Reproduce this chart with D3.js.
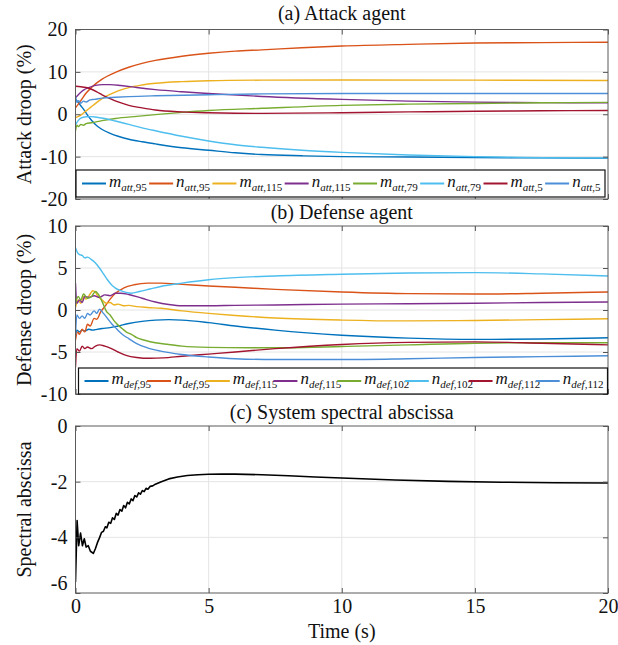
<!DOCTYPE html>
<html>
<head>
<meta charset="utf-8">
<script src="https://cdn.jsdelivr.net/npm/d3@7"></script>
<style>
  html, body { margin: 0; padding: 0; background: #fff; }
  svg { display: block; font-family: "Liberation Serif", "Times New Roman", serif; }
</style>
</head>
<body>
<svg id="chart" width="618" height="645"></svg>
<script>
// ---------- data: [time (s), value] ----------
// (a) attack agent droop (%)
const mAtt95 = [[0,3.6],[0.1,2.8],[0.2,2.0],[0.3,1.2],[0.45,-0.2],[0.6,-1.4],[0.8,-2.7],[1.0,-3.6],[1.3,-4.5],[1.6,-5.2],[2.0,-5.9],[2.5,-6.5],[3.0,-7.0],[4.0,-7.9],[5.0,-8.5],[6.0,-9.1],[7.0,-9.5],[8.5,-9.8],[10,-10.0],[12.5,-10.1],[15,-10.2],[17.5,-10.3],[20,-10.4]];
const nAtt95 = [[0,1.5],[0.2,3.2],[0.4,5.0],[0.6,6.3],[0.8,7.4],[1.0,8.3],[1.5,9.9],[2.0,11.1],[2.5,12.0],[3.0,12.7],[4.0,13.7],[5.0,14.4],[6.0,14.9],[7.0,15.2],[8.5,15.7],[10,16.1],[12.5,16.5],[15,16.8],[17.5,16.9],[20,17.0]];
const mAtt115 = [[0,-0.8],[0.2,-0.2],[0.4,0.8],[0.6,1.8],[0.8,2.8],[1.0,3.7],[1.3,4.7],[1.6,5.5],[2.0,6.3],[2.5,6.9],[3.0,7.3],[4.0,7.7],[5.0,7.9],[7.0,8.05],[10,8.1],[15,8.05],[20,7.95]];
const nAtt115 = [[0,3.9],[0.15,4.9],[0.3,5.7],[0.5,6.3],[0.75,6.8],[1.0,7.0],[1.3,7.0],[1.7,6.8],[2.3,6.3],[3.0,5.8],[4.0,5.3],[5.0,4.9],[7.0,4.2],[10,3.5],[12.5,3.1],[15,2.85],[17.5,2.75],[20,2.7]];
const mAtt79 = [[0,-3.9],[0.05,-2.6],[0.12,-2.9],[0.2,-2.4],[0.3,-2.6],[0.4,-2.2],[0.6,-2.0],[1.0,-1.5],[1.5,-1.0],[2.3,-0.5],[3.0,-0.1],[4.0,0.45],[5.0,0.9],[7.0,1.4],[10,2.1],[12.5,2.4],[15,2.55],[17.5,2.7],[20,2.8]];
const nAtt79 = [[0,-2.5],[0.1,-1.5],[0.2,-0.9],[0.4,-0.6],[0.6,-0.55],[0.8,-0.7],[1.1,-1.0],[1.5,-1.6],[2.0,-2.4],[2.5,-3.2],[3.0,-3.9],[4.0,-5.2],[5.0,-6.3],[6.0,-7.2],[7.0,-7.8],[8.5,-8.5],[10,-9.0],[12.5,-9.6],[15,-10.0],[17.5,-10.25],[20,-10.35]];
const mAtt5 = [[0,6.6],[0.2,6.5],[0.4,6.3],[0.6,5.9],[0.8,5.3],[1.0,4.6],[1.3,3.7],[1.6,2.9],[2.0,2.1],[2.5,1.5],[3.0,1.0],[4.0,0.55],[5.0,0.35],[6.0,0.25],[7.0,0.2],[10,0.35],[12.5,0.55],[15,0.7],[17.5,0.82],[20,0.9]];
const nAtt5 = [[0,4.3],[0.05,2.8],[0.12,3.2],[0.2,2.6],[0.3,3.1],[0.4,2.9],[0.55,3.4],[0.7,3.5],[1.0,3.8],[1.5,4.0],[2.0,4.15],[3.0,4.35],[5.0,4.6],[7.0,4.8],[10,4.9],[15,4.9],[20,4.9]];

// (b) defense agent droop (%)
const mDef95 = [[0,-3.0],[0.05,-2.4],[0.15,-2.6],[0.25,-2.4],[0.35,-2.5],[0.5,-2.3],[0.65,-2.4],[0.8,-2.3],[1.0,-2.2],[1.3,-2.1],[1.6,-1.9],[2.0,-1.6],[2.5,-1.35],[3.0,-1.2],[3.5,-1.15],[4.0,-1.2],[5.0,-1.5],[6.0,-1.9],[7.5,-2.4],[10,-3.0],[12.5,-3.35],[15,-3.5],[17.5,-3.45],[20,-3.3]];
const nDef95 = [[0,-3.6],[0.08,-2.6],[0.15,-2.9],[0.25,-2.3],[0.35,-2.6],[0.45,-1.7],[0.55,-1.9],[0.7,-1.0],[0.8,-1.1],[0.95,-0.2],[1.1,0.4],[1.3,1.3],[1.5,2.0],[1.8,2.6],[2.2,3.0],[2.7,3.2],[3.2,3.2],[4.0,3.05],[5.0,2.85],[6.0,2.7],[7.5,2.45],[10,2.15],[12.5,1.95],[15,1.9],[17.5,2.0],[20,2.15]];
const mDef115 = [[0,0.3],[0.1,1.2],[0.2,0.8],[0.3,1.6],[0.4,1.3],[0.55,1.9],[0.65,2.3],[0.75,2.1],[0.85,1.6],[1.0,1.2],[1.15,0.8],[1.3,0.9],[1.45,0.6],[1.6,0.7],[1.8,0.5],[2.0,0.55],[2.3,0.4],[2.7,0.3],[3.2,0.2],[4.0,-0.1],[5.0,-0.4],[6.0,-0.65],[7.5,-0.95],[10,-1.2],[12.5,-1.3],[15,-1.25],[17.5,-1.15],[20,-1.05]];
const nDef115 = [[0,3.2],[0.05,0.8],[0.15,1.2],[0.25,0.9],[0.35,1.6],[0.5,1.5],[0.7,1.7],[0.9,1.5],[1.1,1.8],[1.3,1.7],[1.5,2.0],[1.7,2.0],[2.0,1.85],[2.5,1.4],[3.0,0.95],[3.5,0.65],[4.0,0.5],[5.0,0.5],[6.0,0.55],[7.5,0.6],[10,0.7],[12.5,0.75],[15,0.8],[17.5,0.9],[20,0.95]];
const mDef102 = [[0,0.8],[0.1,1.6],[0.2,1.2],[0.3,1.9],[0.45,1.4],[0.6,1.6],[0.75,2.2],[0.85,1.9],[1.0,1.0],[1.15,-0.1],[1.3,-0.6],[1.45,-1.3],[1.6,-1.8],[1.75,-2.2],[1.9,-2.6],[2.1,-2.9],[2.3,-3.3],[2.6,-3.6],[3.0,-3.9],[3.5,-4.1],[4.0,-4.3],[5.0,-4.45],[6.5,-4.5],[8.0,-4.5],[10,-4.35],[12.5,-4.15],[15,-3.95],[17.5,-3.9],[20,-3.9]];
const nDef102 = [[0,7.4],[0.08,6.8],[0.15,6.6],[0.25,6.5],[0.35,6.2],[0.45,6.3],[0.6,6.0],[0.75,5.6],[0.9,5.0],[1.05,4.3],[1.2,3.6],[1.35,3.0],[1.5,2.6],[1.7,2.3],[1.9,2.1],[2.1,2.0],[2.4,2.2],[2.8,2.5],[3.2,2.8],[4.0,3.2],[5.0,3.6],[6.0,3.85],[7.5,4.05],[10,4.25],[12.5,4.4],[15,4.45],[17.5,4.3],[20,4.05]];
const mDef112 = [[0,-6.8],[0.05,-4.6],[0.15,-4.9],[0.25,-4.3],[0.35,-4.6],[0.45,-4.4],[0.6,-4.6],[0.75,-4.3],[0.9,-4.15],[1.1,-4.3],[1.35,-4.6],[1.6,-5.0],[1.9,-5.4],[2.3,-5.65],[2.8,-5.75],[3.3,-5.7],[4.0,-5.5],[5.0,-5.25],[6.0,-5.0],[7.5,-4.6],[10,-4.1],[12.5,-3.85],[15,-3.8],[17.5,-3.95],[20,-4.15]];
const nDef112 = [[0,-3.0],[0.05,-0.6],[0.15,-1.0],[0.25,-0.7],[0.35,-1.0],[0.45,-0.4],[0.55,-0.6],[0.7,-0.1],[0.8,-0.4],[0.9,0.1],[1.05,-0.4],[1.2,-1.0],[1.35,-1.6],[1.5,-2.1],[1.65,-2.6],[1.8,-3.0],[2.0,-3.4],[2.3,-4.0],[2.7,-4.5],[3.2,-4.9],[4.0,-5.3],[5.0,-5.6],[6.0,-5.8],[7.5,-5.9],[10,-5.9],[12.5,-5.8],[15,-5.65],[17.5,-5.55],[20,-5.45]];

// (c) system spectral abscissa
const spectral = [[0,-5.6],[0.06,-3.4],[0.12,-4.3],[0.19,-3.85],[0.26,-4.3],[0.33,-4.05],[0.4,-4.35],[0.48,-4.3],[0.56,-4.5],[0.67,-4.58],[0.75,-4.4],[0.82,-4.2],[0.9,-4.02],[0.98,-3.82],[1.05,-3.78],[1.12,-3.62],[1.18,-3.66],[1.25,-3.46],[1.32,-3.5],[1.39,-3.3],[1.46,-3.36],[1.53,-3.14],[1.6,-3.2],[1.67,-3.0],[1.74,-3.06],[1.81,-2.86],[1.88,-2.94],[1.95,-2.74],[2.02,-2.8],[2.09,-2.62],[2.16,-2.68],[2.23,-2.5],[2.3,-2.55],[2.37,-2.4],[2.44,-2.45],[2.51,-2.32],[2.58,-2.36],[2.65,-2.24],[2.72,-2.27],[2.8,-2.17],[2.9,-2.15],[3.0,-2.09],[3.2,-2.01],[3.5,-1.9],[3.83,-1.83],[4.2,-1.78],[4.6,-1.75],[5.0,-1.735],[5.5,-1.73],[6.0,-1.73],[7.0,-1.75],[8.0,-1.79],[9.0,-1.83],[10,-1.87],[12,-1.94],[14,-1.99],[16,-2.02],[18,-2.04],[20,-2.05]];

// series names and legend labels
const attSeries = [mAtt95, nAtt95, mAtt115, nAtt115, mAtt79, nAtt79, mAtt5, nAtt5];
const attLabels = [["m","att",",95"],["n","att",",95"],["m","att",",115"],["n","att",",115"],["m","att",",79"],["n","att",",79"],["m","att",",5"],["n","att",",5"]];
const defSeries = [mDef95, nDef95, mDef115, nDef115, mDef102, nDef102, mDef112, nDef112];
const defLabels = [["m","def",",95"],["n","def",",95"],["m","def",",115"],["n","def",",115"],["m","def",",102"],["n","def",",102"],["m","def",",112"],["n","def",",112"]];
const lineColors = ["#0072BD","#D95319","#EDB120","#7E2F8E","#77AC30","#4DBEEE","#A2142F","#4C8FD8"];

const timeTicks = [0, 5, 10, 15, 20];
const attTicks = [-20, -10, 0, 10, 20];
const defTicks = [-10, -5, 0, 5, 10];
const specTicks = [-6, -4, -2, 0];

// ---------- layout ----------
const svg = d3.select("#chart");
const X0 = 75.5, X1 = 608;
const x = d3.scaleLinear().domain([0, 20]).range([X0, X1]);

const panels = [
  { key: "a", title: "(a) Attack agent", ylabel: "Attack droop (%)", top: 29.5, bottom: 199, domain: [-20, 20], ticks: attTicks,
    series: attSeries, labels: attLabels, legend: { x: 76, y: 170, w: 529, h: 27 }, titleY: 20 },
  { key: "b", title: "(b) Defense agent", ylabel: "Defense droop (%)", top: 226, bottom: 394, domain: [-10, 10], ticks: defTicks,
    series: defSeries, labels: defLabels, legend: { x: 78.5, y: 368, w: 529, h: 26 }, titleY: 219 },
  { key: "c", title: "(c) System spectral abscissa", ylabel: "Spectral abscissa", top: 426, bottom: 593, domain: [-6, 0], ticks: specTicks,
    series: [spectral], labels: null, legend: null, titleY: 419 }
];

const defs = svg.append("defs");

panels.forEach(p => {
  const y = d3.scaleLinear().domain(p.domain).range([p.bottom, p.top]);
  const g = svg.append("g");

  // grid
  g.append("g").selectAll("line.gx").data(timeTicks.slice(1, -1)).join("line")
    .attr("x1", d => x(d)).attr("x2", d => x(d)).attr("y1", p.top).attr("y2", p.bottom)
    .attr("stroke", "#e4e4e4").attr("stroke-width", 1);
  g.append("g").selectAll("line.gy").data(p.ticks.slice(1, -1)).join("line")
    .attr("x1", X0).attr("x2", X1).attr("y1", d => y(d)).attr("y2", d => y(d))
    .attr("stroke", "#e4e4e4").attr("stroke-width", 1);

  // data lines
  defs.append("clipPath").attr("id", "clip-" + p.key).append("rect")
    .attr("x", X0).attr("y", p.top).attr("width", X1 - X0).attr("height", p.bottom - p.top);
  const line = d3.line().x(d => x(d[0])).y(d => y(d[1]))
    .curve(p.key === "c" ? d3.curveLinear : d3.curveMonotoneX);
  g.append("g").attr("clip-path", `url(#clip-${p.key})`)
    .selectAll("path").data(p.series).join("path")
    .attr("d", line).attr("fill", "none")
    .attr("stroke", (d, i) => p.key === "c" ? "#000" : lineColors[i])
    .attr("stroke-width", p.key === "c" ? 1.6 : 1.4)
    .attr("stroke-linejoin", "round");

  // axes (inward ticks)
  const yAxis = d3.axisLeft(y).tickValues(p.ticks).tickSize(-5).tickPadding(8).tickFormat(d3.format("d"));
  const ya = g.append("g").attr("transform", `translate(${X0},0)`).call(yAxis);
  const yr = g.append("g").attr("transform", `translate(${X1},0)`).call(d3.axisRight(y).tickValues(p.ticks).tickSize(-5).tickFormat(""));
  const xAxis = d3.axisBottom(x).tickValues(timeTicks).tickSize(-5).tickPadding(6)
    .tickFormat(p.key === "c" ? d3.format("d") : "");
  const xa = g.append("g").attr("transform", `translate(0,${p.bottom})`).call(xAxis);
  const xt = g.append("g").attr("transform", `translate(0,${p.top})`).call(d3.axisTop(x).tickValues(timeTicks).tickSize(-5).tickFormat(""));
  [ya, yr, xa, xt].forEach(a => {
    a.select(".domain").remove();
    a.selectAll(".tick line").attr("stroke", "#555");
    a.selectAll("text").attr("font-size", 20).attr("font-family", "Liberation Serif, Times New Roman, serif").attr("fill", "#111");
  });
  // the lowest label on the spectral axis sits a little higher
  if (p.key === "c") ya.selectAll(".tick").filter(d => d === -6).select("text").attr("dy", "-0.18em");
  ya.selectAll("text").text(d => d < 0 ? "-" + Math.abs(d) : d);

  // box
  g.append("rect").attr("x", X0).attr("y", p.top).attr("width", X1 - X0).attr("height", p.bottom - p.top)
    .attr("fill", "none").attr("stroke", "#5a5a5a").attr("stroke-width", 1);

  // titles
  svg.append("text").attr("x", (X0 + X1) / 2).attr("y", p.titleY).attr("text-anchor", "middle")
    .attr("font-size", 20).attr("fill", "#111").text(p.title);
  svg.append("text").attr("transform", `translate(31,${(p.top + p.bottom) / 2}) rotate(-90)`)
    .attr("text-anchor", "middle").attr("font-size", 20).attr("fill", "#111").text(p.ylabel);

  // legend
  if (p.legend) {
    const L = p.legend;
    const lg = svg.append("g");
    lg.append("rect").attr("x", L.x).attr("y", L.y).attr("width", L.w).attr("height", L.h)
      .attr("fill", "#fff").attr("stroke", "#111").attr("stroke-width", 1.2);
    const cy = L.y + L.h / 2;
    const sampleLen = 24, gap = 3;
    const items = p.labels.map((lab, i) => {
      const it = lg.append("g");
      it.append("line").attr("x1", 0).attr("x2", sampleLen).attr("y1", cy).attr("y2", cy)
        .attr("stroke", lineColors[i]).attr("stroke-width", 2);
      const t = it.append("text").attr("x", sampleLen + gap).attr("y", cy + 3).attr("fill", "#111");
      t.append("tspan").attr("font-style", "italic").attr("font-size", 17).text(lab[0]);
      t.append("tspan").attr("font-style", "italic").attr("font-size", 11).attr("dy", 4).text(lab[1]);
      t.append("tspan").attr("font-size", 11).text(lab[2]);
      return it;
    });
    const widths = items.map(it => it.node().getBBox().width);
    const inner = L.w - 10;
    const total = d3.sum(widths);
    const spacing = (inner - total) / (items.length - 1);
    let cx = L.x + 6;
    items.forEach((it, i) => {
      it.attr("transform", `translate(${cx},0)`);
      cx += widths[i] + spacing;
    });
  }
});

// x axis label
svg.append("text").attr("x", (X0 + X1) / 2).attr("y", 638).attr("text-anchor", "middle")
  .attr("font-size", 20).attr("fill", "#111").text("Time (s)");
</script>
</body>
</html>
